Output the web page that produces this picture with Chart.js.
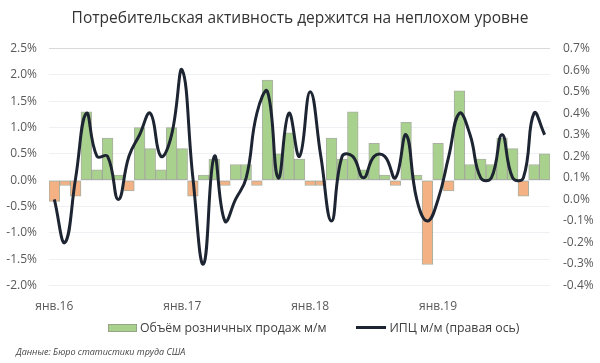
<!DOCTYPE html>
<html lang="ru">
<head>
  <meta charset="UTF-8" />
  <title>Потребительская активность</title>
  <script src="https://cdn.jsdelivr.net/npm/chart.js"></script>
  <style>
    html, body { margin: 0; padding: 0; background: #fff; }
    #wrap { width: 600px; height: 363px; position: relative; font-family: 'Open Sans', sans-serif; }
    .legend { position: absolute; top: 319px; left: 108px; display: flex; align-items: center; font-size: 12.3px; color: #404040; white-space: nowrap; }
    .legend .item { display: flex; align-items: center; }
    .legend .box { width: 29px; height: 8px; background: #a9d18e; border: 1px solid rgba(140,150,130,0.75); box-sizing: border-box; margin-right: 3px; }
    .legend .ln { width: 30px; height: 3px; background: #1e2532; margin-right: 3px; }
    .source { position: absolute; left: 16px; top: 345px; font-size: 9px; font-style: italic; color: #444; }
  </style>
</head>
<body>
  <div id="wrap">
    <canvas id="chart"></canvas>
    <div class="legend">
      <div class="item"><span class="box"></span>Объём розничных продаж м/м</div>
      <div class="item" style="margin-left: 30px"><span class="ln"></span>ИПЦ м/м (правая ось)</div>
    </div>
    <div class="source">Данные: Бюро статистики труда США</div>
  </div>

  <script>
    // months Jan 2016 - Nov 2019
    const months = [
      'янв.16','фев.16','мар.16','апр.16','май.16','июн.16','июл.16','авг.16','сен.16','окт.16','ноя.16','дек.16',
      'янв.17','фев.17','мар.17','апр.17','май.17','июн.17','июл.17','авг.17','сен.17','окт.17','ноя.17','дек.17',
      'янв.18','фев.18','мар.18','апр.18','май.18','июн.18','июл.18','авг.18','сен.18','окт.18','ноя.18','дек.18',
      'янв.19','фев.19','мар.19','апр.19','май.19','июн.19','июл.19','авг.19','сен.19','окт.19','ноя.19'
    ];

    // retail sales m/m, %
    const retail = [
      -0.4, -0.1, -0.3, 1.3, 0.2, 0.8, 0.1, -0.2, 1.0, 0.6, 0.2, 1.0,
      0.6, -0.3, 0.1, 0.4, -0.1, 0.3, 0.3, -0.1, 1.9, 0.5, 0.9, 0.4,
      -0.1, -0.1, 0.8, 0.4, 1.3, 0.2, 0.7, 0.1, -0.1, 1.1, 0.1, -1.6,
      0.7, -0.2, 1.7, 0.3, 0.4, 0.3, 0.8, 0.6, -0.3, 0.3, 0.5
    ];

    // CPI m/m, % (right axis)
    const cpi = [
      0.0, -0.2, 0.1, 0.4, 0.2, 0.2, 0.0, 0.2, 0.3, 0.4, 0.2, 0.3,
      0.6, 0.1, -0.3, 0.2, -0.1, 0.0, 0.1, 0.4, 0.5, 0.1, 0.4, 0.2,
      0.5, 0.2, -0.1, 0.2, 0.2, 0.1, 0.2, 0.2, 0.1, 0.3, 0.0, -0.1,
      0.0, 0.2, 0.4, 0.3, 0.1, 0.1, 0.3, 0.1, 0.1, 0.4, 0.3
    ];

    const leftTicks = { min: -2, max: 2.5, step: 0.5 };
    const rightTicks = { min: -0.4, max: 0.7, step: 0.1 };

    const pct = v => (Math.abs(v) < 1e-9 ? 0 : v).toFixed(1) + '%';

    Chart.defaults.font.family = "'Open Sans', sans-serif";
    Chart.defaults.color = '#595959';

    new Chart(document.getElementById('chart'), {
      data: {
        labels: months,
        datasets: [
          {
            type: 'line',
            label: 'ИПЦ м/м (правая ось)',
            data: cpi,
            yAxisID: 'y1',
            borderColor: '#1e2532',
            borderWidth: 3,
            pointRadius: 0,
            tension: 0.45,
            order: 0
          },
          {
            type: 'bar',
            label: 'Объём розничных продаж м/м',
            data: retail,
            yAxisID: 'y',
            backgroundColor: retail.map(v => v < 0 ? '#f4b183' : '#a9d18e'),
            borderColor: 'rgba(140,150,130,0.75)',
            borderWidth: 1,
            borderSkipped: false,
            barPercentage: 1,
            categoryPercentage: 1,
            order: 1
          }
        ]
      },
      options: {
        responsive: true,
        maintainAspectRatio: false,
        animation: false,
        layout: { padding: { left: 0, right: 0, top: 0, bottom: 43 } },
        plugins: {
          title: {
            display: true,
            text: 'Потребительская активность держится на неплохом уровне',
            color: '#333',
            font: { size: 15.5, weight: 'normal' },
            padding: { top: 9, bottom: 21 }
          },
          legend: { display: false },
          tooltip: { enabled: false }
        },
        scales: {
          x: {
            grid: { display: false },
            border: { display: false },
            ticks: {
              autoSkip: false,
              maxRotation: 0,
              font: { size: 12 },
              padding: 6,
              callback: (v, i) => i % 12 === 0 ? months[i] : ''
            }
          },
          y: {
            position: 'left',
            min: leftTicks.min,
            max: leftTicks.max,
            border: { display: false },
            grid: {
              color: ctx => ctx.tick && ctx.tick.value === leftTicks.max ? '#d9d9d9' : '#eef0f3',
              drawTicks: false
            },
            ticks: {
              stepSize: leftTicks.step,
              padding: 12,
              font: { size: 12 },
              callback: v => pct(v)
            },
            afterFit: s => { s.width = 49; }
          },
          y1: {
            position: 'right',
            min: rightTicks.min,
            max: rightTicks.max,
            border: { display: false },
            grid: { display: false, drawTicks: false },
            ticks: {
              stepSize: rightTicks.step,
              padding: 13,
              font: { size: 12 },
              callback: v => pct(v)
            },
            afterFit: s => { s.width = 50; }
          }
        }
      }
    });
  </script>
</body>
</html>
